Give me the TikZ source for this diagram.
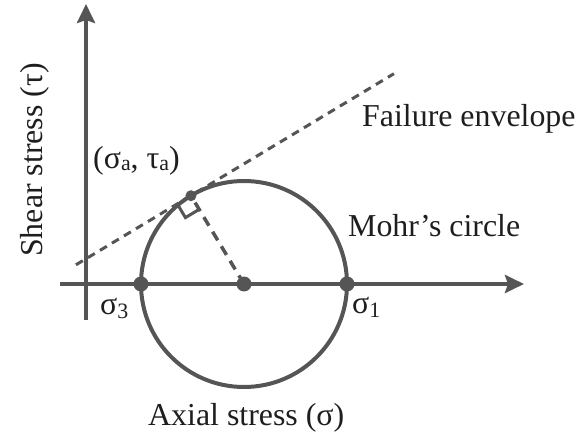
\documentclass[tikz,border=0pt]{standalone}
\usepackage{fontspec}
\setmainfont{Liberation Serif}
\usetikzlibrary{arrows.meta,calc}
\definecolor{ink}{RGB}{85,85,85}
\definecolor{txt}{RGB}{30,30,30}
\newcommand{\sbs}[2][-4bp]{\raisebox{#1}{\fontsize{22}{22}\selectfont #2}}
\begin{document}
\begin{tikzpicture}[x=1bp,y=-1bp,
  axis/.style={draw=ink,line width=4.5bp,-{Stealth[length=19bp,width=18bp,inset=3bp]}},
  circ/.style={draw=ink,line width=4bp},
  envelope/.style={draw=ink,line width=3bp,dash pattern=on 8bp off 6bp},
  radius/.style={draw=ink,line width=3.5bp,dash pattern=on 10bp off 7bp},
  marker/.style={draw=ink,line width=3bp},
  dot/.style={circle,fill=ink,inner sep=0pt,minimum size=15bp},
  smalldot/.style={circle,fill=ink,inner sep=0pt,minimum size=11bp},
  lbl/.style={text=txt,inner sep=0pt,anchor=base west,font=\fontsize{32}{38}\selectfont}]
\useasboundingbox (0,0) rectangle (583,443);
% axes
\coordinate (xs) at (60,284);
\coordinate (xe) at (524,284);
\coordinate (ys) at (86,320);
\coordinate (ye) at (86,4);
\draw[axis] (xs) -- (xe);
\draw[axis] (ys) -- (ye);
% circle
\coordinate (C) at (244,284);
\draw[circ] (C) circle (103);
% tangent point at angle 121 deg (page)
\coordinate (T) at ($(C)+(-53.05,-88.29)$);
% envelope line, slope 31 deg
\coordinate (E1) at ($(T)+(-115,69.1)$);
\coordinate (E2) at ($(T)+(203,-122)$);
\draw[envelope] (E1) -- (E2);
% radius to tangent point
\draw[radius] (C) -- (T);
% right-angle marker
\coordinate (M1) at ($(T)+(-13.7,8.2)$);
\coordinate (M2) at ($(M1)+(8.2,13.7)$);
\coordinate (M3) at ($(T)+(8.2,13.7)$);
\draw[marker] (M1) -- (M2) -- (M3);
% dots
\node[dot] (s3) at (141,284) {};
\node[dot] (c) at (C) {};
\node[dot] (s1) at (347,284) {};
\node[smalldot] (t) at (T) {};
% labels
\node[lbl] (fe) at (362,127) {Failure envelope};
\node[lbl] (mc) at (348,237) {Mohr’s circle};
\node[lbl] (sa) at (93,169) {(σ\sbs[-2bp]{a}, τ\sbs[-2bp]{a})};
\node[lbl] (l3) at (100,314) {σ\sbs{3}};
\node[lbl] (l1) at (352,313) {σ\sbs{1}};
\node[lbl] (ax) at (148,425) {Axial stress (σ)};
\node[lbl,rotate=90] (sh) at (42,257) {Shear stress (τ)};
\end{tikzpicture}
\end{document}
